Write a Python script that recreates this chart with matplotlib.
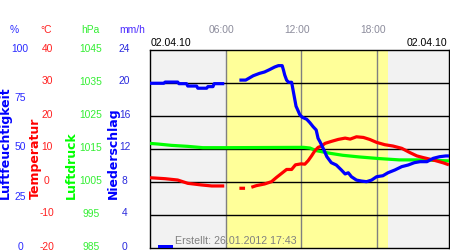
import numpy as np
import matplotlib
matplotlib.use("Agg")
import matplotlib.pyplot as plt
from matplotlib import transforms

nan = np.nan

# hours of the day
hum_t = [0.0, 1.1, 1.2, 2.2, 2.3, 2.9, 3.0, 3.7, 3.8, 4.5, 4.6, 5.0, 5.1, 5.9, 6.5,
         7.1, 7.6, 7.9, 8.2, 8.7, 9.1, 9.5, 9.9, 10.2, 10.5, 10.6, 10.7, 10.85, 11.0,
         11.25, 11.6, 11.75, 11.9, 12.1, 12.45, 12.7, 12.95, 13.2, 13.35, 13.5, 13.75,
         14.05, 14.4, 14.8, 15.2, 15.5, 15.75, 16.0, 16.4, 16.8, 17.2, 17.6, 18.0,
         18.5, 18.9, 19.45, 20.0, 20.5, 21.0, 21.45, 22.0, 22.5, 23.0, 23.5, 23.75]
hum_v = [83.2, 83.2, 83.8, 83.8, 83.0, 83.0, 81.8, 81.8, 80.7, 80.7, 81.5, 81.5, 83.0, 83.0, nan,
         84.8, 84.8, 85.9, 87.0, 88.2, 88.9, 90.1, 91.4, 92.1, 92.1, 89.9, 87.4, 84.8, 83.7,
         83.7, 71.6, 69.5, 67.3, 66.0, 65.0, 63.3, 61.3, 59.6, 55.4, 53.7, 50.4,
         46.1, 43.1, 41.9, 39.4, 37.4, 38.0, 36.0, 34.3, 33.8, 33.5, 34.3, 36.0,
         36.5, 38.0, 39.4, 41.1, 41.9, 43.1, 43.6, 43.6, 45.3, 46.1, 46.5, 46.5]

temp_t = [0.0, 1.2, 2.2, 3.0, 4.1, 4.9, 5.9, 6.5, 7.1, 7.55, 7.8, 8.05, 8.45, 9.1, 9.65,
          10.05, 10.45, 10.85, 11.25, 11.55, 12.0, 12.3, 12.57, 12.83, 13.1, 13.36, 13.63,
          13.9, 14.4, 14.95, 15.5, 15.9, 16.4, 16.95, 17.45, 18.0, 18.65, 19.3, 20.0,
          20.65, 21.2, 21.7, 22.25, 22.75, 23.3, 23.75]
temp_v = [1.3, 1.0, 0.6, -0.4, -0.9, -1.2, -1.2, nan, -1.9, -1.9, nan, -1.6, -1.1, -0.6, 0.1,
          1.4, 2.6, 3.8, 3.8, 5.2, 5.5, 5.4, 6.5, 7.9, 9.5, 10.5, 10.9,
          11.7, 12.3, 12.9, 13.3, 13.0, 13.7, 13.5, 12.9, 12.0, 11.3, 10.9, 10.2,
          8.9, 7.9, 7.4, 6.9, 6.4, 5.8, 5.2]

pres_t = [0.0, 0.65, 1.7, 3.0, 4.2, 6.0, 12.2, 12.7, 13.2, 14.3, 15.3, 16.6, 18.2,
          19.8, 21.5, 23.0, 23.75]
pres_v = [1016.7, 1016.5, 1016.1, 1015.8, 1015.4, 1015.4, 1015.5, 1015.3, 1014.5,
          1013.7, 1013.1, 1012.6, 1012.1, 1011.7, 1011.7, 1011.5, 1011.4]

rain_t = [1.2]
rain_v = [0.4]

hum_ticks = [0, 25, 50, 75, 100]
temp_ticks = [-20, -10, 0, 10, 20, 30, 40]
pres_ticks = [985, 995, 1005, 1015, 1025, 1035, 1045]
rain_ticks = [0, 4, 8, 12, 16, 20, 24]
hour_ticks = [6, 12, 18]
hour_labels = ["06:00", "12:00", "18:00"]
sunrise, sunset = 6.0, 18.87
date = "02.04.10"

BLUE = "#0000ff"
RED = "#ff0000"
GREEN = "#00ff00"
SANS = "Liberation Sans"

W, H = 450, 250
fig = plt.figure(figsize=(4.5, 2.5), dpi=100)
ax = fig.add_axes([150 / W, 2 / H, 299 / W, 198 / H])
ax.set_xlim(0, 23.75)
ax.set_ylim(-20, 40)
ax.set_xticks([])
ax.set_yticks([])
for s in ax.spines.values():
    s.set_linewidth(1.0)
    s.set_color("black")

ax.axvspan(0, sunrise, color="#f2f2f2", lw=0)
ax.axvspan(sunrise, sunset, color="#ffff99", lw=0)
ax.axvspan(sunset, 24, color="#f2f2f2", lw=0)
for h in hour_ticks:
    ax.axvline(h, color="#808080", lw=1.0)
for v in temp_ticks[1:-1]:
    ax.axhline(v, color="black", lw=1.0)


def twin(lo, hi):
    a = ax.twinx()
    a.set_ylim(lo, hi)
    a.set_xlim(0, 23.75)
    a.set_yticks([])
    for s in a.spines.values():
        s.set_visible(False)
    return a


ax_p = twin(985, 1045)
ax_t = twin(-20, 40)
ax_h = twin(0, 100)
ax_r = twin(0, 24)

ax_p.plot(pres_t, pres_v, color=GREEN, lw=2.3, solid_capstyle="butt")
ax_t.plot(temp_t, temp_v, color=RED, lw=2.3, solid_capstyle="butt")
ax_h.plot(hum_t, hum_v, color=BLUE, lw=2.3, solid_capstyle="butt")
ax_r.bar(rain_t, rain_v, width=1.2, color=BLUE, lw=0)

# left scales
def scale(a, ticks, xpx, color, ha="center"):
    tr = transforms.blended_transform_factory(fig.transFigure, a.transData)
    tr = transforms.offset_copy(tr, fig=fig, y=1.5, units="dots")
    for v in ticks:
        fig.text(xpx / W, v, str(v), transform=tr, ha=ha, va="center",
                 color=color, fontsize=7.4, family=SANS)


scale(ax_h, hum_ticks, 20, "#2a2aff")
scale(ax_t, temp_ticks, 47, "#ff2020")
scale(ax_p, pres_ticks, 91, "#33ee33")
scale(ax_r, rain_ticks, 124.5, "#2a2add")

for x, txt, c in [(14, "%", "#2a2aff"), (46, "°C", "#ff2020"),
                  (90, "hPa", "#33ee33"), (132, "mm/h", "#4a2aff")]:
    fig.text(x / W, 1 - 30 / H, txt, ha="center", va="center", color=c,
             fontsize=7.4, family=SANS)

for x, txt, c in [(5.5, "Luftfeuchtigkeit", BLUE), (35, "Temperatur", RED),
                  (71.5, "Luftdruck", GREEN), (113, "Niederschlag", BLUE)]:
    fig.text(x / W, 51 / H, txt, rotation=90, ha="center", va="bottom",
             color=c, fontsize=9, fontweight="bold", family="DejaVu Sans")

# top labels
trx = transforms.blended_transform_factory(ax.transData, fig.transFigure)
trx = transforms.offset_copy(trx, fig=fig, x=-4, units="dots")
for h, lab in zip(hour_ticks, hour_labels):
    fig.text(h, 1 - 30 / H, lab, transform=trx, ha="center", va="center",
             color="#8c8c9c", fontsize=7.4, family=SANS)

fig.text(151 / W, 1 - 43 / H, date, ha="left", va="center", color="black",
         fontsize=7.6, family=SANS)
fig.text(447 / W, 1 - 43 / H, date, ha="right", va="center", color="black",
         fontsize=7.6, family=SANS)
fig.text(175 / W, 1 - 241 / H, "Erstellt: 26.01.2012 17:43", ha="left",
         va="center", color="#808080", fontsize=7.7, family=SANS)

fig.savefig("out.png", dpi=100)
